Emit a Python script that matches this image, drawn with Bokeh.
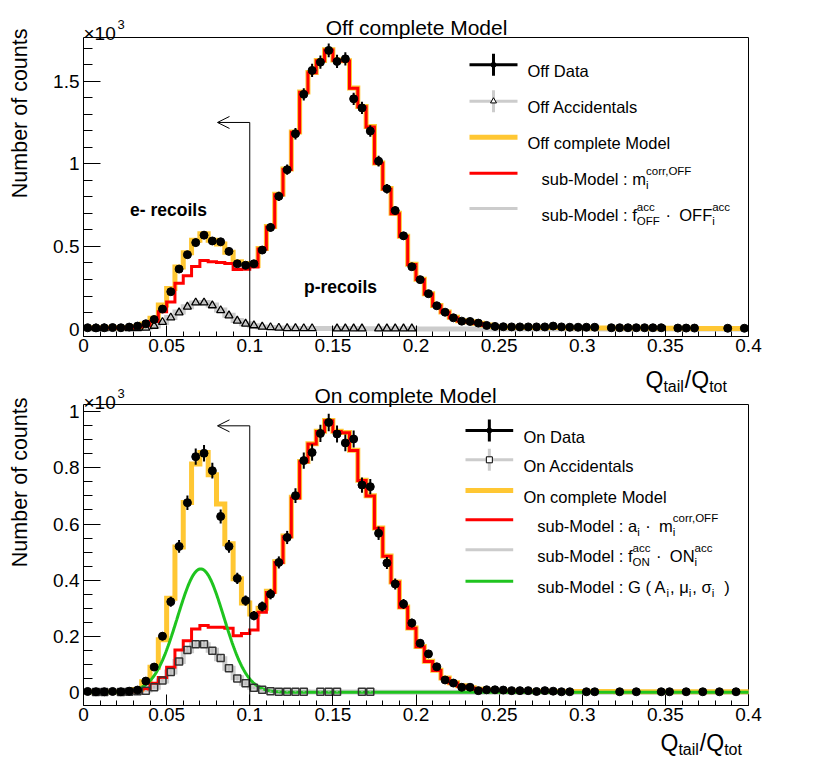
import re
import numpy as np
from bokeh.plotting import figure
from bokeh.layouts import column
from bokeh.models import Label, Arrow, OpenHead, FixedTicker, Range1d
from bokeh.embed import file_html
from bokeh.resources import INLINE

FONT = "Liberation Sans"

# ---------------------------------------------------------------- data
N_BINS = 80
BIN_WIDTH = 0.005

X_TICKS = [0, 0.05, 0.1, 0.15, 0.2, 0.25, 0.3, 0.35, 0.4]
X_TICK_LABELS = ["0", "0.05", "0.1", "0.15", "0.2", "0.25", "0.3", "0.35", "0.4"]
OFF_Y_TICKS = [0, 500, 1000, 1500]
OFF_Y_TICK_LABELS = ["0", "0.5", "1", "1.5"]
ON_Y_TICKS = [0, 200, 400, 600, 800, 1000]
ON_Y_TICK_LABELS = ["0", "0.2", "0.4", "0.6", "0.8", "1"]

# ---- OFF panel (counts per bin of width 0.005)
off_data = [8, 7, 8, 9, 8, 12, 18, 32, 58, 121,
            226, 363, 450, 523, 568, 533, 528, 470, 395, 386,
            395, 478, 615, 803, 964, 1182, 1420, 1565, 1615, 1686,
            1619, 1635, 1393, 1338, 1198, 1016, 849, 717, 564, 377,
            299, 214, 141, 102, 68, 48, 46, 36, 22, 16,
            14, 13, 13, 13, 13, 13, 18, 13, 11, 11,
            11, 11, 0, 8, 8, 8, 8, 8, 8, 8,
            0, 6, 6, 6, 0, 0, 0, 5, 0, 5]
off_acc = [0, 4, 4, 0, 0, 5, 5, 7, 19, 42,
           69, 100, 135, 160, 160, 143, 113, 82, 50, 32,
           22, 14, 10, 7, 5, 5, 4, 4, 0, 0,
           3, 3, 3, 3, 0, 3, 3, 3, 3, 3] + [0] * 40
off_acc_model = [1, 1, 1, 1, 2, 3, 4, 8, 18, 40,
                 70, 103, 135, 158, 160, 145, 115, 83, 52, 32,
                 20, 13, 9, 6, 5, 4, 4, 3, 3, 3,
                 3, 3, 3, 2, 2, 2, 2, 2, 2, 2] + [0] * 40
off_model = [8, 8, 8, 8, 8, 10, 16, 30, 66, 145,
             245, 375, 462, 538, 576, 538, 515, 465, 408, 397,
             385, 487, 620, 815, 968, 1192, 1435, 1552, 1625, 1690,
             1628, 1624, 1458, 1347, 1225, 1005, 850, 700, 562, 392,
             302, 214, 143, 103, 71, 51, 44, 35, 24, 16,
             12, 11, 11, 10, 10, 10, 9, 9, 8, 8,
             8, 7, 7, 7, 6, 6, 6, 6, 5, 5,
             5, 5, 5, 4, 4, 4, 4, 4, 4, 4]
off_corr = [7, 7, 7, 7, 6, 7, 12, 22, 45, 105,
            163, 277, 322, 378, 415, 408, 403, 397, 360, 362,
            376, 485, 618, 812, 966, 1190, 1433, 1550, 1623, 1688,
            1626, 1622, 1457, 1345, 1223, 1003, 848, 698, 560, 390,
            300, 212, 141, 101, 69, 49, 42, 33, 22]

# ---- ON panel
on_data = [3, 2, 2, 3, 2, 4, 8, 40, 90, 200,
           323, 520, 676, 840, 852, 790, 627, 520, 406, 327,
           273, 306, 350, 463, 552, 701, 826, 855, 923, 962,
           921, 889, 903, 739, 733, 567, 461, 386, 315, 247,
           175, 137, 91, 44, 33, 18, 18, 6, 9, 9,
           8, 6, 6, 6, 3, 6, 4, 2, 2, 0,
           2, 2, 0, 0, 2, 0, 2, 0, 0, 2,
           2, 0, 2, 0, 2, 0, 2, 0, 2, 0]
on_acc = [0, 1, 1, 0, 1, 2, 4, 6, 18, 42,
          72, 110, 151, 171, 171, 148, 122, 86, 49, 32,
          16, 9, 4, 2, 2, 2, 2, 0, 2, 2,
          2, 0, 0, 2, 2, 0, 0, 0, 0, 0] + [0] * 40
on_acc_model = [0, 0, 0, 0, 1, 2, 4, 8, 18, 40,
                72, 110, 148, 170, 170, 150, 120, 86, 52, 32,
                18, 10, 5, 3, 2, 2, 2, 1, 1, 1,
                1, 1, 1, 1, 1, 0, 0, 0, 0, 0] + [0] * 40
on_model = [2, 2, 2, 2, 2, 4, 10, 38, 89, 187,
            335, 518, 677, 814, 855, 776, 671, 530, 405, 318,
            279, 300, 360, 465, 557, 695, 823, 886, 931, 969,
            931, 926, 863, 756, 701, 586, 486, 393, 304, 229,
            163, 111, 79, 51, 34, 23, 16, 11, 8, 6,
            5, 5, 4, 4, 4, 4, 3, 3, 3, 3,
            3, 3, 3, 3, 2, 2, 2, 2, 2, 2,
            2, 2, 2, 2, 2, 2, 2, 2, 2, 2]
on_corr = [1, 1, 1, 1, 1, 2, 4, 12, 32, 53,
           89, 151, 184, 226, 238, 232, 232, 228, 202, 210,
           222, 285, 356, 463, 555, 693, 822, 885, 930, 968,
           930, 925, 862, 755, 700, 585, 485, 392, 303, 228,
           162, 110, 78, 50, 33, 22, 15, 10, 7]
# Gaussian sub-model G(A_i, mu_i, sigma_i)
G_AMPLITUDE = 440.0
G_MEAN = 0.0705
G_SIGMA = 0.014

CUT_X = 0.1
ARROW_TIP_X = 0.0806
OFF_ARROW_Y = 1250
ON_ARROW_Y = 950

# ---------------------------------------------------------------- style
ORANGE = "#ffc733"
RED = "#ff0000"
GRAY = "#cccccc"
GRAY_ERR = "#bdbdbd"
GREEN = "#1fc41f"

EDGES = np.round(np.arange(N_BINS + 1) * BIN_WIDTH, 4)
CENTERS = EDGES[:-1] + BIN_WIDTH / 2

# page layout (pixels)
CANVAS_W = 828
PANEL_LEFT, PANEL_RIGHT = 83, 748
X_LO, X_HI = 0.0, 0.4
_kx = (X_HI - X_LO) / (PANEL_RIGHT - PANEL_LEFT)
FIG_X_RANGE = (X_LO - PANEL_LEFT * _kx, X_LO + (CANVAS_W - PANEL_LEFT) * _kx)

CHAR_W = {" ": 278, "-": 333, ":": 278, "·": 278, "(": 333, ")": 333, ",": 278,
          "/": 278, ".": 278, "a": 556, "b": 556, "c": 500, "d": 556, "e": 556,
          "f": 278, "i": 222, "l": 222, "m": 833, "n": 556, "o": 556, "p": 556,
          "r": 333, "s": 500, "t": 278, "u": 556, "A": 667, "D": 722, "F": 611,
          "G": 778, "M": 833, "N": 722, "O": 778, "Q": 778, "μ": 576, "σ": 617}


def tw(s, size):
    return sum(CHAR_W.get(ch, 556) for ch in s) / 1000.0 * size


class Geo:
    """page pixel -> data conversion for one panel figure"""
    def __init__(self, canvas_top, canvas_bottom, box_top, box_bottom, y_lo, y_hi):
        s = (y_hi - y_lo) / (box_bottom - box_top)
        self.canvas_top = canvas_top
        self.canvas_h = canvas_bottom - canvas_top
        self.yr = (y_lo - (canvas_bottom - box_bottom) * s,
                   y_hi + (box_top - canvas_top) * s)
        self.y_lo, self.y_hi = y_lo, y_hi

    def x(self, px):
        return FIG_X_RANGE[0] + px / CANVAS_W * (FIG_X_RANGE[1] - FIG_X_RANGE[0])

    def y(self, py):
        return self.yr[1] - (py - self.canvas_top) / self.canvas_h * (self.yr[1] - self.yr[0])


def label(p, g, px, py, text, size, align="left", baseline="alphabetic",
          bold=False, angle=0.0):
    p.add_layout(Label(x=g.x(px), y=g.y(py), text=text, text_font=FONT,
                       text_font_size=f"{size}px", text_align=align,
                       text_baseline=baseline, angle=angle,
                       text_font_style="bold" if bold else "normal",
                       text_color="black"))


def plain(p, g, px, py, s, size):
    for m in re.finditer(r"\S+(?: \S+)*", s):
        label(p, g, px + tw(s[:m.start()], size), py, m.group(0), size)
    return tw(s, size)


def rich(p, g, px, py, pieces, size, small, sup_dy=-8, sub_dy=6):
    x = px
    for piece in pieces:
        if isinstance(piece, str):
            x += plain(p, g, x, py, piece, size)
        else:
            sup, sub = piece
            w = 0
            if sup:
                label(p, g, x, py + sup_dy, sup, small)
                w = max(w, tw(sup, small))
            if sub:
                label(p, g, x, py + sub_dy, sub, small)
                w = max(w, tw(sub, small))
            x += w + 1


def hist_line(p, vals, color, width):
    v = np.asarray(vals, dtype=float)
    e = EDGES[:len(v) + 1]
    xs = np.repeat(e, 2)[1:-1]
    ys = np.repeat(v, 2)
    p.line(xs, ys, line_color=color, line_width=width, line_join="miter")


def points(p, vals, marker, size, fill, line, lw, err_color, err_w):
    v = np.asarray(vals, dtype=float)
    m = v > 0
    xc = CENTERS[m]
    vv = v[m]
    err = np.sqrt(vv)
    p.segment(xc, vv - err, xc, vv + err, line_color=err_color, line_width=err_w)
    p.scatter(xc, vv, marker=marker, size=size, fill_color=fill,
              line_color=line, line_width=lw)


def make_panel(g, yticks, ylabels, yminor):
    p = figure(frame_width=CANVAS_W, frame_height=int(round(g.canvas_h)),
               x_range=Range1d(*FIG_X_RANGE), y_range=Range1d(*g.yr),
               min_border=0, output_backend="svg", toolbar_location=None,
               background_fill_color="white", border_fill_color="white")
    p.xgrid.visible = False
    p.ygrid.visible = False
    p.outline_line_color = None

    xa = p.xaxis[0]
    xa.fixed_location = g.y_lo
    xa.bounds = (X_LO, X_HI)
    xa.ticker = FixedTicker(ticks=X_TICKS,
                            minor_ticks=np.round(np.arange(0, 0.4001, 0.01), 2).tolist())
    xa.major_label_overrides = dict(zip(X_TICKS, X_TICK_LABELS))
    ya = p.yaxis[0]
    ya.fixed_location = X_LO
    ya.bounds = (g.y_lo, g.y_hi)
    ya.ticker = FixedTicker(ticks=yticks, minor_ticks=yminor)
    ya.major_label_overrides = dict(zip(yticks, ylabels))
    for ax, maj, mnr in ((xa, 11, 5), (ya, 17, 9)):
        ax.major_tick_in = maj
        ax.major_tick_out = 0
        ax.minor_tick_in = mnr
        ax.minor_tick_out = 0
        ax.axis_line_color = "black"
        ax.major_tick_line_color = "black"
        ax.minor_tick_line_color = "black"
        ax.major_label_text_font = FONT
        ax.major_label_text_font_size = "19px"
        ax.major_label_text_color = "black"
    xa.major_label_standoff = 2
    ya.major_label_standoff = 4
    # right and top edges of the panel box
    p.segment(x0=[X_HI, X_LO], y0=[g.y_lo, g.y_hi], x1=[X_HI, X_HI], y1=[g.y_hi, g.y_hi],
              line_color="black", line_width=1)
    return p


def legend_symbol(p, g, x0, x1, py, color, width, bar=False, marker=None, mkw=None):
    p.segment(x0=[g.x(x0)], y0=[g.y(py)], x1=[g.x(x1)], y1=[g.y(py)],
              line_color=color, line_width=width)
    xm = (x0 + x1) / 2
    if bar:
        p.segment(x0=[g.x(xm)], y0=[g.y(py - 11)], x1=[g.x(xm)], y1=[g.y(py + 11)],
                  line_color=color, line_width=width)
    if marker:
        p.scatter([g.x(xm)], [g.y(py)], marker=marker, **mkw)


LEG_SIZE = 16.5
LEG_SMALL = 11.5

# ================================================================ OFF panel
g1 = Geo(0, 361, 37, 336, -45, 1764)
p1 = make_panel(g1, OFF_Y_TICKS, OFF_Y_TICK_LABELS, list(range(0, 1800, 100)))

hist_line(p1, off_acc_model, GRAY, 5)
hist_line(p1, off_model, ORANGE, 5)
hist_line(p1, off_corr, RED, 3)
points(p1, off_acc, "triangle", 8, None, "black", 1.3, GRAY_ERR, 2)
points(p1, off_data, "circle", 8, "black", "black", 1, "black", 2)

p1.segment(x0=[CUT_X], y0=[g1.y_lo], x1=[CUT_X], y1=[OFF_ARROW_Y],
           line_color="black", line_width=1)
p1.add_layout(Arrow(end=OpenHead(size=12, line_width=1, line_color="black"),
                    x_start=CUT_X, y_start=OFF_ARROW_Y, x_end=ARROW_TIP_X,
                    y_end=OFF_ARROW_Y, line_width=1, line_color="black"))

label(p1, g1, 416, 27, "Off complete Model", 21, align="center")
label(p1, g1, 83, 32.7, "×10", 19)
label(p1, g1, 117, 24, "3", 13)
label(p1, g1, 19.5, 28, "Number of counts", 21.5, align="right",
      baseline="middle", angle=np.pi / 2)
label(p1, g1, 168, 209, "e- recoils", 17.5, align="center", bold=True)
label(p1, g1, 340, 286, "p-recoils", 17.5, align="center", bold=True)

top_rows = [64.3, 100.7, 136.7, 172.7, 208]
lx0, lx1 = 469, 517
legend_symbol(p1, g1, lx0, lx1, top_rows[0], "black", 3, bar=True, marker="circle",
              mkw=dict(size=5, fill_color="black", line_color="black"))
legend_symbol(p1, g1, lx0, lx1, top_rows[1], GRAY, 3, bar=True, marker="triangle",
              mkw=dict(size=6, fill_color="white", line_color="black", line_width=1))
legend_symbol(p1, g1, lx0, lx1, top_rows[2], ORANGE, 5)
legend_symbol(p1, g1, lx0, lx1, top_rows[3], RED, 3)
legend_symbol(p1, g1, lx0, lx1, top_rows[4], GRAY, 3)
rich(p1, g1, 527, top_rows[0] + 6, ["Off Data"], LEG_SIZE, LEG_SMALL)
rich(p1, g1, 527, top_rows[1] + 6, ["Off Accidentals"], LEG_SIZE, LEG_SMALL)
rich(p1, g1, 527, top_rows[2] + 6, ["Off complete Model"], LEG_SIZE, LEG_SMALL)
rich(p1, g1, 541, top_rows[3] + 6, ["sub-Model : m", ("corr,OFF", "i")], LEG_SIZE, LEG_SMALL)
rich(p1, g1, 541, top_rows[4] + 6,
     ["sub-Model : f", ("acc", "OFF"), " ·  OFF", ("acc", "i")], LEG_SIZE, LEG_SMALL)

# ================================================================ ON panel
g2 = Geo(361, 760, 404, 705, -47, 1026)
p2 = make_panel(g2, ON_Y_TICKS, ON_Y_TICK_LABELS, list(range(0, 1050, 50)))

gx = np.linspace(X_LO, X_HI, 801)
gy = G_AMPLITUDE * np.exp(-0.5 * ((gx - G_MEAN) / G_SIGMA) ** 2)

hist_line(p2, on_acc_model, GRAY, 5)
hist_line(p2, on_model, ORANGE, 5)
hist_line(p2, on_corr, RED, 3)
p2.line(gx, gy, line_color=GREEN, line_width=3)
points(p2, on_acc, "square", 7, None, "#333333", 1.5, GRAY_ERR, 2)
points(p2, on_data, "circle", 8, "black", "black", 1, "black", 2)

p2.segment(x0=[CUT_X], y0=[g2.y_lo], x1=[CUT_X], y1=[ON_ARROW_Y],
           line_color="black", line_width=1)
p2.add_layout(Arrow(end=OpenHead(size=12, line_width=1, line_color="black"),
                    x_start=CUT_X, y_start=ON_ARROW_Y, x_end=ARROW_TIP_X,
                    y_end=ON_ARROW_Y, line_width=1, line_color="black"))

# x-axis title of the OFF panel (lies in the gap between the panels)
rich(p2, g2, 645, 379, ["Q", (None, "tail"), "/Q", (None, "tot")], 23, 16, sub_dy=7)
label(p2, g2, 405, 395, "On complete Model", 21, align="center")
label(p2, g2, 83, 401.7, "×10", 19)
label(p2, g2, 117, 393, "3", 13)
label(p2, g2, 19.5, 397, "Number of counts", 21.5, align="right",
      baseline="middle", angle=np.pi / 2)
rich(p2, g2, 660, 742, ["Q", (None, "tail"), "/Q", (None, "tot")], 23, 16, sub_dy=7)

bot_rows = [430, 459.3, 490, 519.3, 549.3, 580.7]
bx0, bx1 = 465, 512.7
legend_symbol(p2, g2, bx0, bx1, bot_rows[0], "black", 3, bar=True, marker="circle",
              mkw=dict(size=5, fill_color="black", line_color="black"))
legend_symbol(p2, g2, bx0, bx1, bot_rows[1], GRAY, 3, bar=True, marker="square",
              mkw=dict(size=6, fill_color="white", line_color="black", line_width=1))
legend_symbol(p2, g2, bx0, bx1, bot_rows[2], ORANGE, 5)
legend_symbol(p2, g2, bx0, bx1, bot_rows[3], RED, 3)
legend_symbol(p2, g2, bx0, bx1, bot_rows[4], GRAY, 3)
legend_symbol(p2, g2, bx0, bx1, bot_rows[5], GREEN, 3)
rich(p2, g2, 523, bot_rows[0] + 6, ["On Data"], LEG_SIZE, LEG_SMALL)
rich(p2, g2, 523, bot_rows[1] + 6, ["On Accidentals"], LEG_SIZE, LEG_SMALL)
rich(p2, g2, 523, bot_rows[2] + 6, ["On complete Model"], LEG_SIZE, LEG_SMALL)
rich(p2, g2, 536.7, bot_rows[3] + 6,
     ["sub-Model : a", (None, "i"), " ·  m", ("corr,OFF", "i")], LEG_SIZE, LEG_SMALL)
rich(p2, g2, 536.7, bot_rows[4] + 6,
     ["sub-Model : f", ("acc", "ON"), " ·  ON", ("acc", "i")], LEG_SIZE, LEG_SMALL)
rich(p2, g2, 536.7, bot_rows[5] + 6,
     ["sub-Model : G ( A", (None, "i"), ", μ", (None, "i"), ", σ", (None, "i"), "  )"],
     LEG_SIZE, LEG_SMALL)

layout = column(p1, p2)
open("out.html", "w").write(file_html(layout, INLINE))
